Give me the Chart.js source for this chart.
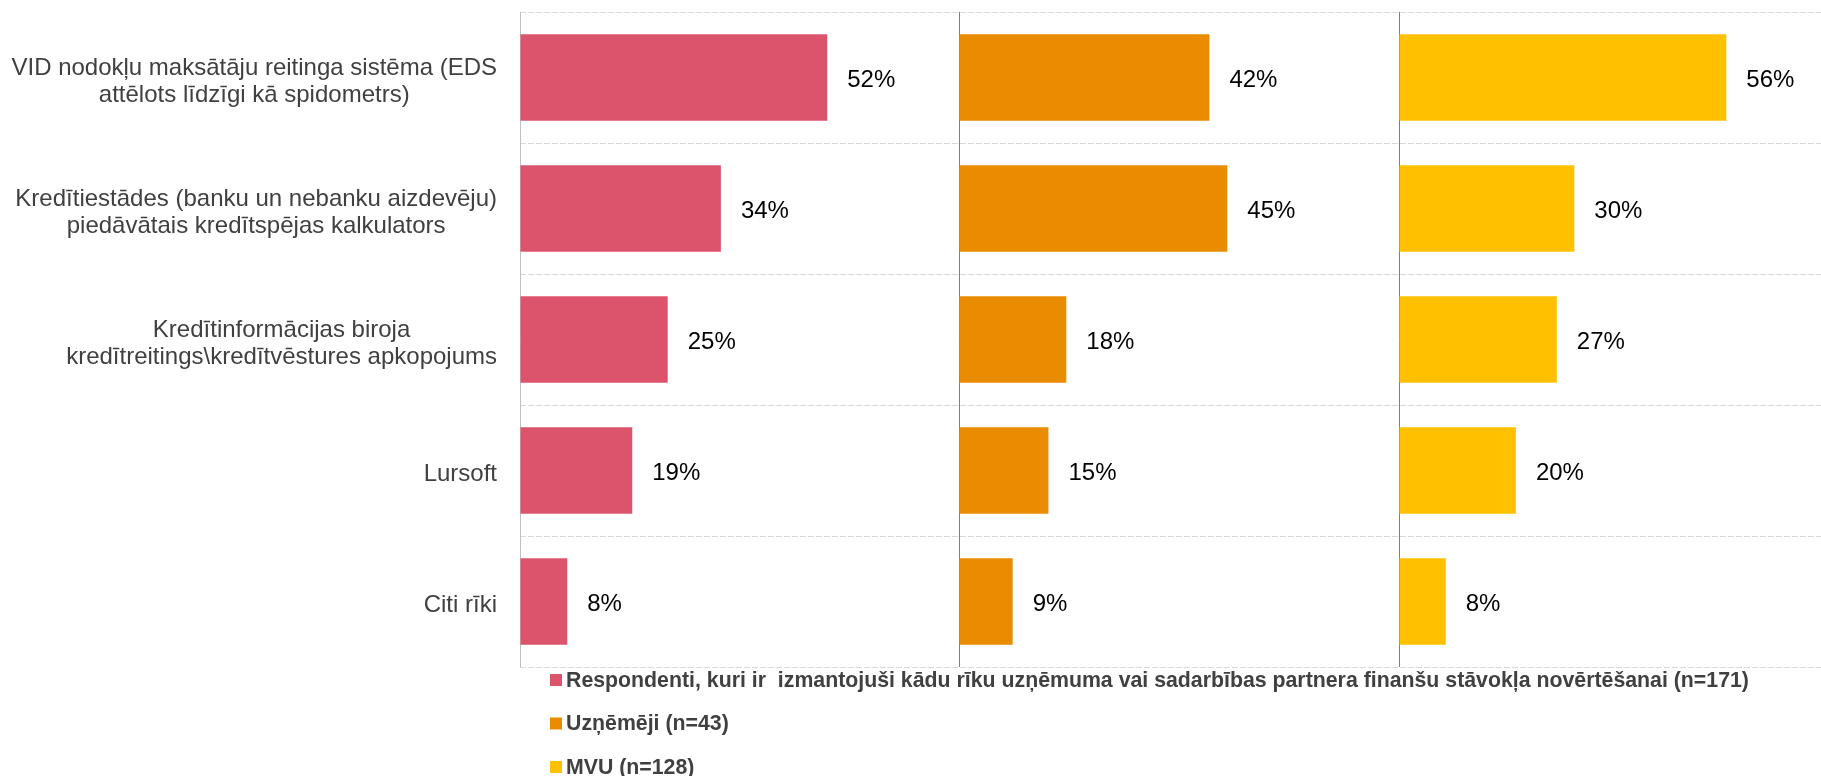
<!DOCTYPE html>
<html><head><meta charset="utf-8">
<script src="https://cdn.jsdelivr.net/npm/chart.js@4/dist/chart.umd.min.js"></script>
<style>html,body{margin:0;padding:0;background:#fff;overflow:hidden}#wrap{position:relative;width:1821px;height:776px}</style>
</head><body><div id="wrap"><canvas id="c" width="1821" height="776"></canvas></div>
<script>
const categories = [
  ["VID nodokļu maksātāju reitinga sistēma (EDS", "attēlots līdzīgi kā spidometrs)"],
  ["Kredītiestādes (banku un nebanku aizdevēju)", "piedāvātais kredītspējas kalkulators"],
  ["Kredītinformācijas biroja", "kredītreitings\\kredītvēstures apkopojums"],
  ["Lursoft"],
  ["Citi rīki"]
];
const seriesNames = [
  "Respondenti, kuri ir  izmantojuši kādu rīku uzņēmuma vai sadarbības partnera finanšu stāvokļa novērtēšanai (n=171)",
  "Uzņēmēji (n=43)",
  "MVU (n=128)"
];
const allRespondents = [52, 34, 25, 19, 8];
const entrepreneurs = [42, 45, 18, 15, 9];
const smes = [56, 30, 27, 20, 8];
const seriesColors = ["#DC546C", "#EA8C00", "#FFC000"];
const axisLineColors = ["#BFBFBF", "#7F7F7F", "#7F7F7F"];
const panelMax = [74.3, 73.8, 72.2];
const panelWeight = [439, 440, 422];

const FONT = "'Liberation Sans', Arial, sans-serif";

function xAxis(i) {
  return {
    type: 'linear', position: 'bottom', stack: 'panels', stackWeight: panelWeight[i],
    min: 0, max: panelMax[i],
    ticks: { display: false },
    border: { display: false },
    grid: {
      drawTicks: false, lineWidth: 1,
      color: ctx => (ctx.tick && ctx.tick.value === 0) ? axisLineColors[i] : 'rgba(0,0,0,0)'
    },
    afterFit: s => { s.height = 0; }
  };
}

const labelPlugin = {
  id: 'customText',
  afterDatasetsDraw(chart) {
    const ctx = chart.ctx;
    ctx.save();
    ctx.font = "24px " + FONT;
    ctx.fillStyle = "#000000";
    ctx.textAlign = 'left';
    ctx.textBaseline = 'middle';
    chart.data.datasets.forEach((ds, di) => {
      const meta = chart.getDatasetMeta(di);
      meta.data.forEach((bar, i) => {
        ctx.fillText(ds.data[i] + '%', bar.x + 20, bar.y + 3);
      });
    });
    ctx.restore();
  },
  afterDraw(chart) {
    const ctx = chart.ctx;
    const yScale = chart.scales.y;
    ctx.save();
    // category labels: block right-aligned, lines centered within block
    ctx.font = "24px " + FONT;
    ctx.fillStyle = "#404040";
    ctx.textAlign = 'center';
    ctx.textBaseline = 'middle';
    const rightEdge = yScale.right - 23;
    const lh = 27;
    chart.data.labels.forEach((lines, i) => {
      const cy = yScale.getPixelForValue(i) + 4;
      let maxW = 0;
      lines.forEach(l => { maxW = Math.max(maxW, ctx.measureText(l).width); });
      const cx = rightEdge - maxW / 2;
      const y0 = cy - (lines.length - 1) * lh / 2;
      lines.forEach((l, k) => ctx.fillText(l, cx, y0 + k * lh));
    });
    // legend
    ctx.font = "bold 21.3px " + FONT;
    ctx.textAlign = 'left';
    const top = chart.chartArea.bottom + 13;
    chart.data.datasets.forEach((ds, di) => {
      const y = top + di * 43.5;
      ctx.fillStyle = ds.backgroundColor;
      ctx.fillRect(550, y - 6, 12, 12);
      ctx.fillStyle = "#404040";
      ctx.fillText(ds.label, 566, y + 1);
    });
    ctx.restore();
  }
};

const seriesValues = [allRespondents, entrepreneurs, smes];
const datasets = seriesValues.map((vals, i) => ({
  label: seriesNames[i],
  data: vals,
  backgroundColor: seriesColors[i],
  borderWidth: 0,
  xAxisID: 'x' + (i + 1),
  yAxisID: 'y',
  grouped: false,
  categoryPercentage: 1,
  barPercentage: 0.662
}));

new Chart(document.getElementById('c'), {
  type: 'bar',
  data: { labels: categories, datasets },
  options: {
    indexAxis: 'y',
    responsive: false,
    devicePixelRatio: 1,
    animation: false,
    layout: { padding: { top: 12, bottom: 109, left: 0, right: 0 } },
    plugins: { legend: { display: false }, tooltip: { enabled: false } },
    scales: {
      y: {
        type: 'category', position: 'left', offset: true,
        ticks: { display: false },
        border: { display: false, dash: [6, 2] },
        grid: { offset: true, drawTicks: false, color: '#D9D9D9', lineWidth: 1 },
        afterFit: s => { s.width = 520; }
      },
      x1: xAxis(0),
      x2: xAxis(1),
      x3: xAxis(2)
    }
  },
  plugins: [labelPlugin]
});
</script>
</body></html>
